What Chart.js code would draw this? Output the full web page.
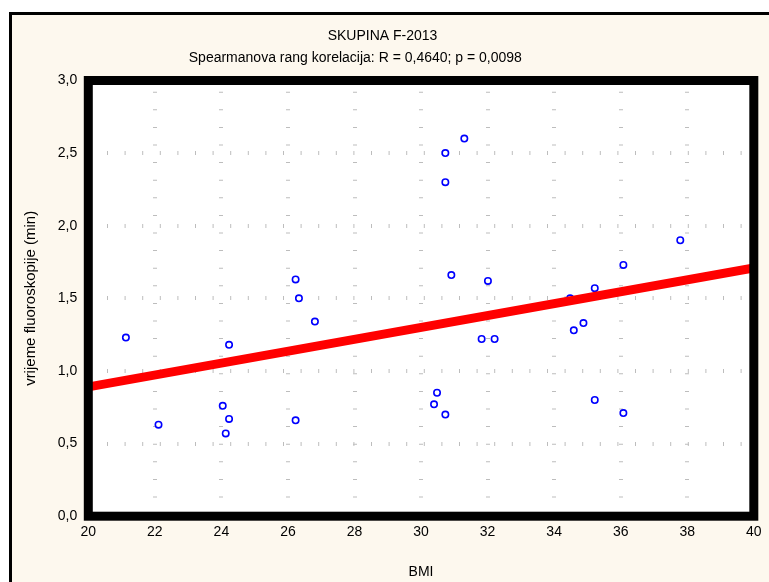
<!DOCTYPE html>
<html>
<head>
<meta charset="utf-8">
<script src="https://cdn.jsdelivr.net/npm/chart.js@4.4.1/dist/chart.umd.min.js"></script>
<style>
  html, body { margin: 0; padding: 0; background: #ffffff; }
  #frame { position: absolute; left: 9px; top: 12px; width: 780px; height: 600px;
           border-left: 3px solid #000; border-top: 3px solid #000; background: #fdf8ee; }
  #chart { position: absolute; left: 0; top: 0; }
</style>
</head>
<body>
<div id="frame"></div>
<canvas id="chart" width="769" height="582"></canvas>
<script>
  // Podaci
  const bmi = [21.13, 22.11, 24.04, 24.23, 24.13, 24.23, 26.23, 26.33, 26.23, 26.81,
               30.73, 30.73, 31.30, 30.91, 32.01, 31.82, 32.21, 30.48, 30.39, 30.73,
               35.22, 36.08, 37.79, 34.88, 34.59, 35.22, 36.08, 34.48];
  const vrijeme = [1.23, 0.63, 0.76, 0.67, 0.57, 1.18, 1.63, 1.50, 0.66, 1.34,
                   2.50, 2.30, 2.60, 1.66, 1.62, 1.22, 1.22, 0.85, 0.77, 0.70,
                   1.57, 1.73, 1.90, 1.33, 1.28, 0.80, 0.71, 1.50];
  const fitX = [20, 40];
  const fitY = [0.89, 1.71];
  const xTicks = [20, 22, 24, 26, 28, 30, 32, 34, 36, 38, 40];
  const yTicks = [0, 0.5, 1.0, 1.5, 2.0, 2.5, 3.0];

  const FONT = "'Liberation Sans', Arial, sans-serif";

  // bijela podloga i debeli okvir oko grafa
  const plotFrame = {
    id: 'plotFrame',
    beforeDraw(chart) {
      const a = chart.chartArea, ctx = chart.ctx;
      ctx.save();
      ctx.fillStyle = '#ffffff';
      ctx.fillRect(a.left, a.top, a.right - a.left, a.bottom - a.top);
      ctx.restore();
    },
    afterDatasetsDraw(chart) {
      const a = chart.chartArea, ctx = chart.ctx;
      ctx.save();
      ctx.strokeStyle = '#000000';
      ctx.lineWidth = 9;
      ctx.strokeRect(a.left, a.top, a.right - a.left, a.bottom - a.top);
      ctx.restore();
    }
  };

  new Chart(document.getElementById('chart'), {
    type: 'scatter',
    data: {
      datasets: [
        {
          label: 'Regresija',
          data: fitX.map((x, i) => ({ x: x, y: fitY[i] })),
          showLine: true,
          borderColor: '#ff0000',
          borderWidth: 9,
          pointRadius: 0,
          order: 0
        },
        {
          label: 'vrijeme fluoroskopije',
          data: bmi.map((x, i) => ({ x: x, y: vrijeme[i] })),
          pointStyle: 'circle',
          pointRadius: 3.2,
          borderWidth: 1.6,
          borderColor: '#0000ff',
          backgroundColor: '#ffffff',
          order: 1
        }
      ]
    },
    options: {
      responsive: false,
      animation: false,
      layout: { padding: { top: 14, right: 11.7, left: 0, bottom: 0 } },
      plugins: {
        legend: { display: false },
        tooltip: { enabled: false },
        title: {
          display: true,
          text: '  SKUPINA F-2013',
          color: '#000',
          font: { family: FONT, size: 14, weight: 'normal' },
          padding: { top: 14.1, bottom: 2 }
        },
        subtitle: {
          display: true,
          text: 'Spearmanova rang korelacija: R = 0,4640; p = 0,0098' + ' '.repeat(12),
          color: '#000',
          font: { family: FONT, size: 14, weight: 'normal' },
          padding: { top: 2.7, bottom: 14.1 }
        }
      },
      scales: {
        x: {
          type: 'linear',
          min: 20,
          max: 40,
          afterBuildTicks: s => { s.ticks = xTicks.map(v => ({ value: v })); },
          afterFit: s => { s.height = 65.8; },
          ticks: { color: '#000', font: { family: FONT, size: 14 }, padding: 7.4,
                   callback: v => String(v) },
          grid: { color: '#bdbdbd', lineWidth: 4, drawTicks: false },
          border: { display: false, dash: [1, 16.6], dashOffset: 6.4 },
          title: { display: true, text: 'BMI', color: '#000',
                   font: { family: FONT, size: 14 }, padding: { top: 0, bottom: 1.6 } }
        },
        y: {
          type: 'linear',
          min: 0,
          max: 3,
          afterBuildTicks: s => { s.ticks = yTicks.map(v => ({ value: v })); },
          afterFit: s => { s.width = 88.3; },
          ticks: { color: '#000', font: { family: FONT, size: 14 }, padding: 11,
                   callback: v => v.toFixed(1).replace('.', ',') },
          grid: { color: '#bdbdbd', lineWidth: 4, drawTicks: false },
          border: { display: false, dash: [1, 16.6], dashOffset: 16.2 },
          title: { display: true, text: 'vrijeme fluoroskopije (min)', color: '#000',
                   font: { family: FONT, size: 15 }, padding: { top: 22, bottom: 0 } }
        }
      }
    },
    plugins: [plotFrame]
  });
</script>
</body>
</html>
